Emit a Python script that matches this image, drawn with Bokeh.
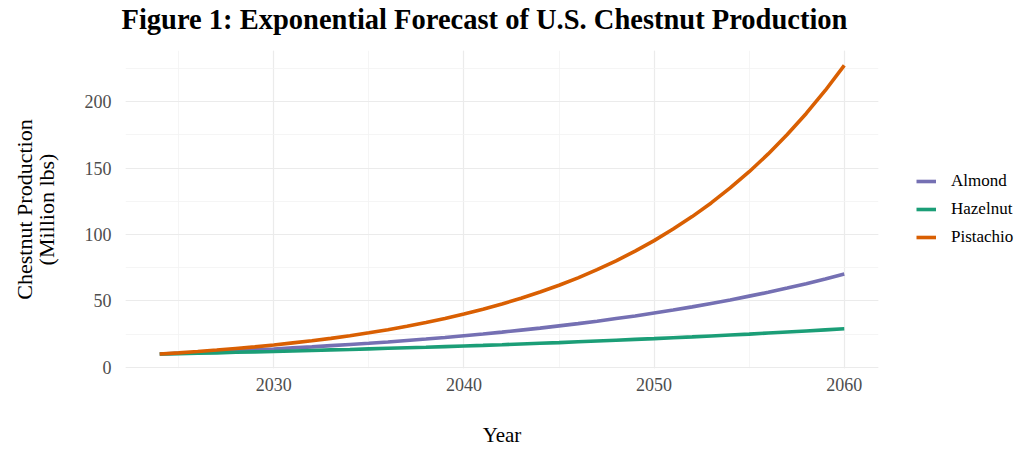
from bokeh.plotting import figure
from bokeh.models import Range1d, SingleIntervalTicker, Legend, LegendItem, Title, Spacer
from bokeh.layouts import row
from bokeh.embed import file_html
from bokeh.resources import INLINE

years = list(range(2024, 2061))
almond = [10.0, 10.6, 11.1, 11.8, 12.4, 13.1, 13.8, 14.6, 15.4, 16.3,
          17.2, 18.1, 19.1, 20.2, 21.3, 22.5, 23.8, 25.1, 26.5, 28.0,
          29.5, 31.2, 32.9, 34.7, 36.7, 38.7, 40.9, 43.1, 45.5, 48.1,
          50.7, 53.6, 56.5, 59.7, 63.0, 66.5, 70.2]
hazelnut = [10.0, 10.3, 10.6, 10.9, 11.3, 11.6, 11.9, 12.3, 12.7, 13.1,
            13.4, 13.9, 14.3, 14.7, 15.1, 15.6, 16.1, 16.5, 17.0, 17.6,
            18.1, 18.6, 19.2, 19.8, 20.4, 21.0, 21.6, 22.3, 22.9, 23.6,
            24.3, 25.0, 25.8, 26.6, 27.4, 28.2, 29.0]
pistachio = [10.0, 10.9, 11.9, 13.0, 14.2, 15.4, 16.8, 18.4, 20.0, 21.8,
             23.8, 26.0, 28.3, 30.9, 33.7, 36.7, 40.1, 43.7, 47.7, 52.0,
             56.7, 61.8, 67.4, 73.5, 80.2, 87.5, 95.4, 104.1, 113.5, 123.8,
             135.1, 147.3, 160.7, 175.3, 191.2, 208.5, 227.4]
series_names = ["Almond", "Hazelnut", "Pistachio"]
series_values = [almond, hazelnut, pistachio]
colors = ["#7570B3", "#1B9E77", "#D95F02"]
title_text = "Figure 1: Exponential Forecast of U.S. Chestnut Production"

FONT = "Liberation Serif"

p = figure(frame_width=753, frame_height=318, output_backend="svg", toolbar_location=None,
           x_range=Range1d(2022.2, 2061.8), y_range=Range1d(-0.9, 238.6),
           min_border_left=0, min_border_right=0, min_border_top=0,
           min_border_bottom=0, title_location=None)
p.outline_line_color = None
p.background_fill_color = "white"
p.border_fill_color = "white"

# spacer between title and plot area (added first = nearest the frame)
p.add_layout(Title(text=" ", text_font_size="1px", standoff=12), "above")
main_title = Title(text=title_text, text_font=FONT, text_font_size="28.5px",
                   text_font_style="bold", text_color="black",
                   align="left", offset=-4, standoff=2)
p.add_layout(main_title, "above")

p.xaxis.ticker = SingleIntervalTicker(interval=10, num_minor_ticks=2)
p.yaxis.ticker = SingleIntervalTicker(interval=50, num_minor_ticks=2)
for ax in (p.xaxis, p.yaxis):
    ax.axis_line_color = None
    ax.major_tick_line_color = None
    ax.minor_tick_line_color = None
    ax.major_tick_out = 0
    ax.major_tick_in = 0
    ax.major_label_text_font = FONT
    ax.major_label_text_font_size = "18px"
    ax.major_label_text_color = "#4D4D4D"
    ax.axis_label_text_font = FONT
    ax.axis_label_text_font_size = "21px"
    ax.axis_label_text_font_style = "normal"
    ax.axis_label_text_color = "black"

p.xaxis.axis_label = "Year"
p.xaxis.major_label_standoff = 5
p.xaxis.axis_label_standoff = 29
p.yaxis.axis_label = "Chestnut Production\n(Million lbs)"
p.yaxis.axis_label_text_font_size = "22px"
p.yaxis.axis_label_text_line_height = 0.86
p.yaxis.major_label_standoff = 10
p.yaxis.axis_label_standoff = 23

for g in (p.xgrid, p.ygrid):
    g.grid_line_color = "#EBEBEB"
    g.grid_line_width = 1.2
    g.minor_grid_line_color = "#F2F2F2"
    g.minor_grid_line_width = 0.8

items = []
for name, vals, col in zip(series_names, series_values, colors):
    r = p.line(years, vals, line_color=col, line_width=3.6)
    items.append(LegendItem(label=name, renderers=[r]))

legend = Legend(items=items, location="center_left")
legend.label_text_font = FONT
legend.label_text_font_size = "17px"
legend.label_text_color = "black"
legend.glyph_width = 20
legend.glyph_height = 20
legend.label_height = 20
legend.spacing = 8
legend.label_standoff = 15
legend.padding = 0
legend.margin = 38
legend.border_line_color = None
legend.background_fill_alpha = 0
p.add_layout(legend, "right")

layout = row(Spacer(width=8), p)
open("out.html", "w").write(file_html(layout, INLINE))
